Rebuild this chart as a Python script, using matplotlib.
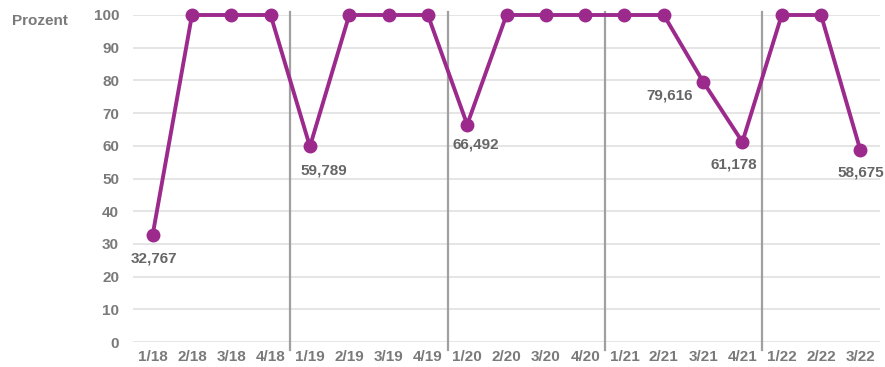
import numpy as np
import matplotlib.pyplot as plt

plt.rcParams['font.family'] = ['Liberation Sans', 'DejaVu Sans']

# Daten
quartale = ['1/18', '2/18', '3/18', '4/18', '1/19', '2/19', '3/19', '4/19',
            '1/20', '2/20', '3/20', '4/20', '1/21', '2/21', '3/21', '4/21',
            '1/22', '2/22', '3/22']
prozent = [32.767, 100, 100, 100, 59.789, 100, 100, 100,
           66.492, 100, 100, 100, 100, 100, 79.616, 61.178,
           100, 100, 58.675]
# Beschriftete Punkte: Index -> (dx, dy) Versatz in Punkten
beschriftet = {0: (1, -17), 4: (10, -17), 8: (6, -14), 14: (-24, -10),
               15: (-6.5, -16.5), 18: (0, -16)}
jahresgrenzen = [3.5, 7.5, 11.5, 15.5]

farbe = '#9c2a8c'

fig = plt.figure(figsize=(8.85, 3.67), dpi=100)
ax = fig.add_axes([133 / 885, 25 / 367, 747 / 885, 327 / 367])

x = np.arange(len(quartale))
ax.plot(x, prozent, color=farbe, lw=2.8, marker='o', ms=9, zorder=3,
        clip_on=False)

for i, (dx, dy) in beschriftet.items():
    txt = f'{prozent[i]:.3f}'.replace('.', ',')
    ax.annotate(txt, (x[i], prozent[i]), xytext=(dx, dy),
                textcoords='offset points', ha='center', va='center',
                fontsize=11, fontweight='bold', color='#666666')

for g in jahresgrenzen:
    ax.plot([g, g], [-2.5, 101], color='#a0a0a0', lw=1.6, zorder=2,
            clip_on=False)

ax.set_xlim(-0.5, len(quartale) - 0.5)
ax.set_ylim(0, 100)
ax.set_yticks(np.arange(0, 101, 10))
ax.set_xticks(x)
ax.set_xticklabels(quartale)
ax.grid(axis='y', color='#e0e0e0', lw=1.2)
ax.set_axisbelow(True)
for s in ax.spines.values():
    s.set_visible(False)
ax.tick_params(length=0, labelsize=11, labelcolor='#7a7a7a')
ax.tick_params(axis='x', pad=6)
ax.tick_params(axis='y', pad=10)
for lbl in ax.get_xticklabels() + ax.get_yticklabels():
    lbl.set_fontweight('bold')

fig.text(12 / 885, 1 - 21 / 367, 'Prozent', fontsize=11, fontweight='bold',
         color='#7a7a7a', va='center', ha='left')

fig.savefig('out.png', dpi=100)
